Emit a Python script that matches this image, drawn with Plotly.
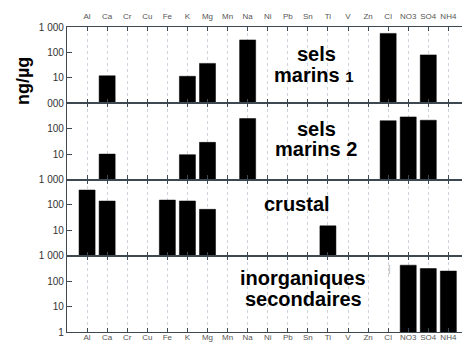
import plotly.graph_objects as go
from plotly.subplots import make_subplots

# Species measured (same order on both category axes)
categories = ["Al", "Ca", "Cr", "Cu", "Fe", "K", "Mg", "Mn", "Na", "Ni",
              "Pb", "Sn", "Ti", "V", "Zn", "Cl", "NO3", "SO4", "NH4"]

# Source profiles, ng/µg (None = not part of the profile)
sels_marins_1 = [None, 12, None, None, None, 11.5, 37, None, 310, None,
                 None, None, None, None, None, 560, None, 80, None]
sels_marins_2 = [None, 10, None, None, None, 9.5, 29, None, 250, None,
                 None, None, None, None, None, 205, 290, 215, None]
crustal = [385, 142, None, None, 155, 143, 67, None, None, None,
           None, None, 15, None, None, None, None, None, None]
inorganiques_secondaires = [None, None, None, None, None, None, None, None, None, None,
                            None, None, None, None, None, None, 425, 315, 250]

profiles = [sels_marins_1, sels_marins_2, crustal, inorganiques_secondaires]

# y tick labels per panel
y_tickvals = [[10, 100, 1000], [10, 100, 1000], [10, 100, 1000], [1, 10, 100, 1000]]
y_ticktext = [["10", "100", "1 000"], ["10", "100", "000"],
              ["10", "100", "1 000"], ["1", "10", "100", "1 000"]]

AXIS = "#3e4850"
FONT = "Arial, Liberation Sans, sans-serif"

fig = make_subplots(rows=4, cols=1, shared_xaxes=True, vertical_spacing=0)

for i, vals in enumerate(profiles, start=1):
    fig.add_trace(
        go.Bar(x=categories, y=vals, width=0.8,
               marker=dict(color="black", line=dict(color="black", width=0.5)),
               showlegend=False),
        row=i, col=1)
    fig.update_yaxes(
        type="log", range=[0, 3],
        tickvals=y_tickvals[i - 1], ticktext=y_ticktext[i - 1],
        ticks="inside", ticklen=5, tickcolor=AXIS, tickwidth=1,
        showline=True, linecolor=AXIS, linewidth=1.3,
        showgrid=False, zeroline=False,
        tickfont=dict(family=FONT, size=10, color="#333333"),
        row=i, col=1)
    fig.update_xaxes(
        type="category", categoryorder="array", categoryarray=categories,
        range=[-1, 18.68],
        ticks="inside", ticklen=4, tickcolor=AXIS, tickwidth=1,
        showline=True, linecolor=AXIS, linewidth=1.3, mirror="ticks",
        showgrid=True, gridcolor="#cfd3dc", griddash="dot", gridwidth=1,
        tickfont=dict(family=FONT, size=8, color="#555555"),
        row=i, col=1)

fig.update_xaxes(showticklabels=True, side="top", ticklabelstandoff=4, row=1, col=1)
fig.update_xaxes(showticklabels=True, side="bottom", ticklabelstandoff=-3, row=4, col=1)

L, T, B, W, H = 67, 27, 11, 462, 343
PW, PH = W - L, H - T - B


def px(x):
    return (x - L) / PW


def py(y):
    return (H - B - y) / PH


labels = [
    ("sels", 316, 54, 20),
    ("marins <span style='font-size:15px'>1</span>", 314, 75, 20),
    ("sels", 316, 129, 20),
    ("marins 2", 316, 149, 20),
    ("crustal", 297, 204, 20),
    ("inorganiques", 303, 278, 20),
    ("secondaires", 303, 299, 20),
]
annotations = []
for text, x, y, size in labels:
    annotations.append(dict(
        text="<b>" + text + "</b>", x=px(x), y=py(y), xref="paper", yref="paper",
        xanchor="center", yanchor="middle", showarrow=False,
        font=dict(family=FONT, size=size, color="black")))

annotations.append(dict(
    text="<b>ng/µg</b>", x=px(23), y=py(81), xref="paper", yref="paper",
    xanchor="center", yanchor="middle", showarrow=False, textangle=-90,
    font=dict(family=FONT, size=18, color="black")))

annotations.append(dict(
    text="]", x=px(389), y=py(269), xref="paper", yref="paper",
    xanchor="center", yanchor="middle", showarrow=False,
    font=dict(family=FONT, size=9, color="#b0b0b0")))

fig.update_layout(
    width=W, height=H,
    margin=dict(l=L, r=0, t=T, b=B),
    paper_bgcolor="white", plot_bgcolor="white",
    bargap=0.2,
    annotations=annotations,
)

fig.write_html("out.html")
